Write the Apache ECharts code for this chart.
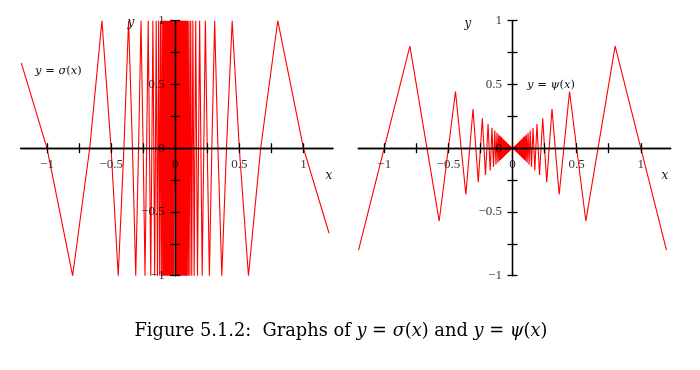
<!DOCTYPE html>
<html><head><meta charset="utf-8">
<script src="https://cdn.jsdelivr.net/npm/echarts@6/dist/echarts.min.js"></script>
<style>html,body{margin:0;padding:0;background:#fff}#c{width:700px;height:370px}</style>
</head><body><div id="c"></div><script>
// vertex x positions (left to right)
const xVals = [
 -1.2, -1.0, -0.8, -0.6667, -0.5714, -0.5, -0.4444, -0.4, -0.3636, -0.3333, -0.3077, -0.2857, -0.2667, -0.25,
 -0.2353, -0.2105, -0.1905, -0.1739, -0.16, -0.1481, -0.1379, -0.129, -0.1212, -0.1143, -0.1081, -0.1026, -0.0976, -0.093, -0.0889,
 -0.085, -0.081, -0.077, -0.073, -0.069, -0.065, -0.061, -0.057, -0.053, -0.049, -0.045, -0.041, -0.037, -0.033, -0.029, -0.025, -0.021, -0.017, -0.013, -0.009, -0.005,
 0,
 0.005, 0.009, 0.013, 0.017, 0.021, 0.025, 0.029, 0.033, 0.037, 0.041, 0.045, 0.049, 0.053, 0.057, 0.061, 0.065, 0.069, 0.073, 0.077, 0.081, 0.085,
 0.0889, 0.093, 0.0976, 0.1026, 0.1081, 0.1143, 0.1212, 0.129, 0.1379, 0.1481, 0.16, 0.1739, 0.1905, 0.2105, 0.2353,
 0.25, 0.2667, 0.2857, 0.3077, 0.3333, 0.3636, 0.4, 0.4444, 0.5, 0.5714, 0.6667, 0.8, 1.0, 1.2
];
// y = sigma(x)
const sigmaVals = [
 0.667, 0, -1, 0, 1, 0, -1, 0, 1, 0, -1, 0, 1, 0,
 -1, 1, -1, 1, -1, 1, -1, 1, -1, 1, -1, 1, -1, 1, -1,
 1, -1, 1, -1, 1, -1, 1, -1, 1, -1, 1, -1, 1, -1, 1, -1, 1, -1, 1, -1, 1,
 0,
 -1, 1, -1, 1, -1, 1, -1, 1, -1, 1, -1, 1, -1, 1, -1, 1, -1, 1, -1, 1, -1,
 1, -1, 1, -1, 1, -1, 1, -1, 1, -1, 1, -1, 1, -1, 1,
 0, -1, 0, 1, 0, -1, 0, 1, 0, -1, 0, 1, 0, -0.667
];
// y = psi(x)
const psiVals = [
 -0.8, 0, 0.8, 0, -0.5714, 0, 0.4444, 0, -0.3636, 0, 0.3077, 0, -0.2667, 0,
 0.2353, -0.2105, 0.1905, -0.1739, 0.16, -0.1481, 0.1379, -0.129, 0.1212, -0.1143, 0.1081, -0.1026, 0.0976, -0.093, 0.0889,
 -0.085, 0.081, -0.077, 0.073, -0.069, 0.065, -0.061, 0.057, -0.053, 0.049, -0.045, 0.041, -0.037, 0.033, -0.029, 0.025, -0.021, 0.017, -0.013, 0.009, -0.005,
 0,
 -0.005, 0.009, -0.013, 0.017, -0.021, 0.025, -0.029, 0.033, -0.037, 0.041, -0.045, 0.049, -0.053, 0.057, -0.061, 0.065, -0.069, 0.073, -0.077, 0.081, -0.085,
 0.0889, -0.093, 0.0976, -0.1026, 0.1081, -0.1143, 0.1212, -0.129, 0.1379, -0.1481, 0.16, -0.1739, 0.1905, -0.2105, 0.2353,
 0, -0.2667, 0, 0.3077, 0, -0.3636, 0, 0.4444, 0, -0.5714, 0, 0.8, 0, -0.8
];
const xTicks = [-1, -0.75, -0.5, -0.25, 0.25, 0.5, 0.75, 1];
const xLabels = [-1, -0.5, 0, 0.5, 1];
const yTicks = [-1, -0.75, -0.5, -0.25, 0.25, 0.5, 0.75, 1];
const yLabels = [-1, -0.5, 0, 0.5, 1];

const FONT = 'Liberation Serif';
const MFONT = 'DejaVu Serif';
const fmt = v => String(v).replace('-', '\u2212');
const lineStyle = {color: '#000', width: 1.3};

function xAxes(gridIndex, yIdx, min, max) {
  const base = {type: 'value', gridIndex, min, max, z: 5, splitLine: {show: false},
    axisLabel: {show: false},
    axisLine: {show: true, onZero: true, onZeroAxisIndex: yIdx, lineStyle},
    axisTick: {show: true, customValues: xTicks, length: 5, lineStyle}};
  return [
    Object.assign({}, base, {position: 'bottom'}),
    Object.assign({}, base, {position: 'top'})
  ];
}
function yAxes(gridIndex, xIdx) {
  const base = {type: 'value', gridIndex, min: -1, max: 1, z: 5, splitLine: {show: false},
    axisLabel: {show: false},
    axisLine: {show: true, onZero: true, onZeroAxisIndex: xIdx, lineStyle},
    axisTick: {show: true, customValues: yTicks, length: 5, lineStyle}};
  return [
    Object.assign({}, base, {position: 'left'}),
    Object.assign({}, base, {position: 'right'})
  ];
}
function tickLabelSeries(xi, yi) {
  const lab = {show: true, fontFamily: FONT, fontSize: 13, color: '#000'};
  return [
    {type: 'scatter', xAxisIndex: xi, yAxisIndex: yi, symbolSize: 1, silent: true, z: 8,
     itemStyle: {color: 'rgba(0,0,0,0)'}, clip: false,
     label: Object.assign({}, lab, {position: 'bottom', distance: 9, formatter: p => fmt(p.value[0])}),
     data: xLabels.map(v => [v, 0])},
    {type: 'scatter', xAxisIndex: xi, yAxisIndex: yi, symbolSize: 1, silent: true, z: 8,
     itemStyle: {color: 'rgba(0,0,0,0)'}, clip: false,
     label: Object.assign({}, lab, {position: 'left', distance: 10, formatter: p => fmt(p.value[1])}),
     data: yLabels.map(v => [0, v])}
  ];
}

const chart = echarts.init(document.getElementById('c'), null, {renderer: 'canvas'});
const mathRich = {
  i: {fontFamily: MFONT, fontStyle: 'italic', fontSize: 11.5, fill: '#111'},
  n: {fontFamily: MFONT, fontSize: 11.5, fill: '#111'}
};
const capRich = {
  i: {fontFamily: MFONT, fontStyle: 'italic', fontSize: 17.8, fill: '#000'},
  n: {fontFamily: MFONT, fontSize: 17.8, fill: '#000'}
};
chart.setOption({
  animation: false,
  backgroundColor: '#fff',
  grid: [
    {left: 20.7, top: 20.7, width: 312.2, height: 255, containLabel: false, outerBoundsMode: 'none'},
    {left: 358.3, top: 20.7, width: 312.4, height: 255, containLabel: false, outerBoundsMode: 'none'}
  ],
  xAxis: [...xAxes(0, 0, -1.205, 1.23), ...xAxes(1, 2, -1.202, 1.233)],
  yAxis: [...yAxes(0, 0), ...yAxes(1, 2)],
  series: [
    {type: 'line', xAxisIndex: 0, yAxisIndex: 0, symbol: 'none', clip: false, z: 2,
     lineStyle: {color: '#ff0000', width: 1.1}, data: xVals.map((x, i) => [x, sigmaVals[i]])},
    {type: 'line', xAxisIndex: 2, yAxisIndex: 2, symbol: 'none', clip: false, z: 2,
     lineStyle: {color: '#ff0000', width: 1.1}, data: xVals.map((x, i) => [x, psiVals[i]])},
    ...tickLabelSeries(0, 0),
    ...tickLabelSeries(2, 2)
  ],
  graphic: [
    {type: 'text', z: 10, style: {text: 'y', x: 131, y: 23, font: 'italic 12px "DejaVu Serif"', fill: '#111', textAlign: 'center', textVerticalAlign: 'middle'}},
    {type: 'text', z: 10, style: {text: 'x', x: 329, y: 176, font: 'italic 12px "DejaVu Serif"', fill: '#111', textAlign: 'center', textVerticalAlign: 'middle'}},
    {type: 'text', z: 10, style: {text: 'y', x: 468, y: 24, font: 'italic 12px "DejaVu Serif"', fill: '#111', textAlign: 'center', textVerticalAlign: 'middle'}},
    {type: 'text', z: 10, style: {text: 'x', x: 665, y: 176, font: 'italic 12px "DejaVu Serif"', fill: '#111', textAlign: 'center', textVerticalAlign: 'middle'}},
    {type: 'text', z: 10, style: {text: '{i|y}{n| = }{i|σ}{n|(}{i|x}{n|)}', x: 35, y: 71, textVerticalAlign: 'middle', rich: mathRich}},
    {type: 'text', z: 10, style: {text: '{i|y}{n| = }{i|ψ}{n|(}{i|x}{n|)}', x: 527, y: 85, textVerticalAlign: 'middle', rich: mathRich}},
    {type: 'text', z: 10, style: {text: '{n|Figure 5.1.2:  Graphs of }{i|y}{n| = }{i|σ}{n|(}{i|x}{n|) and }{i|y}{n| = }{i|ψ}{n|(}{i|x}{n|)}',
      x: 341, y: 331, textAlign: 'center', textVerticalAlign: 'middle', rich: capRich}}
  ]
});
</script></body></html>
